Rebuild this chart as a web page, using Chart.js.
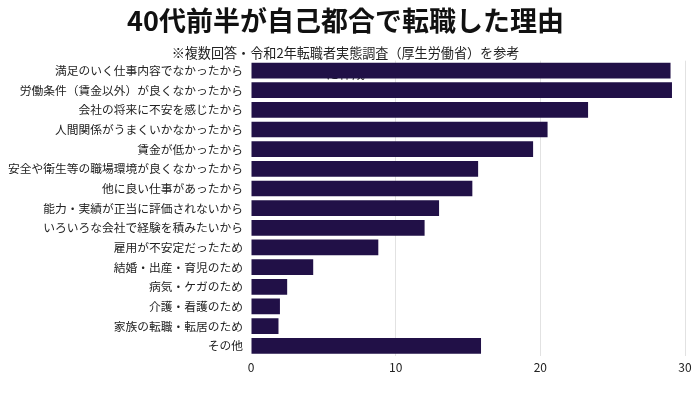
<!DOCTYPE html>
<html>
<head>
<meta charset="utf-8">
<script src="https://cdn.jsdelivr.net/npm/chart.js@4"></script>
<style>
  body { margin: 0; background: #fff; }
  #wrap { width: 700px; height: 393px; }
</style>
</head>
<body>
<div id="wrap"><canvas id="myChart" width="700" height="393"></canvas></div>
<script>
var reasons = [
  '満足のいく仕事内容でなかったから',
  '労働条件（賃金以外）が良くなかったから',
  '会社の将来に不安を感じたから',
  '人間関係がうまくいかなかったから',
  '賃金が低かったから',
  '安全や衛生等の職場環境が良くなかったから',
  '他に良い仕事があったから',
  '能力・実績が正当に評価されないから',
  'いろいろな会社で経験を積みたいから',
  '雇用が不安定だったため',
  '結婚・出産・育児のため',
  '病気・ケガのため',
  '介護・看護のため',
  '家族の転職・転居のため',
  'その他'
];
var percents = [29.0, 29.1, 23.3, 20.5, 19.5, 15.7, 15.3, 13.0, 12.0, 8.8, 4.3, 2.5, 2.0, 1.9, 15.9];
var xTicks = [0, 10, 20, 30];

var titleText = '40代前半が自己都合で転職した理由';
var noteText = ['※複数回答・令和2年転職者実態調査（厚生労働省）を参考', 'に作成'];

var jp = '"Noto Sans CJK JP", "Noto Sans", sans-serif';
Chart.defaults.font.family = jp;
Chart.defaults.color = '#222';

var ctx = document.getElementById('myChart').getContext('2d');
var chart = new Chart(ctx, {
  type: 'bar',
  data: {
    labels: reasons,
    datasets: [{
      data: percents,
      backgroundColor: '#211047',
      borderWidth: 0,
      categoryPercentage: 1,
      barPercentage: 0.8
    }]
  },
  options: {
    indexAxis: 'y',
    responsive: false,
    animation: false,
    layout: { padding: { left: 6, right: 15, top: 0, bottom: 13 } },
    plugins: {
      legend: { display: false },
      tooltip: { enabled: false },
      title: {
        display: true,
        text: titleText,
        color: '#111',
        font: { size: 27, weight: 'bold' },
        padding: { top: 5, bottom: 6 }
      },
      subtitle: {
        display: true,
        text: noteText,
        color: '#222',
        font: { size: 13.1, lineHeight: 1.5 },
        padding: { top: 0, bottom: -22 }
      }
    },
    scales: {
      x: {
        min: 0,
        max: 30,
        afterBuildTicks: function(axis) {
          axis.ticks = xTicks.map(function(v) { return { value: v }; });
        },
        grid: {
          drawTicks: false,
          color: function(c) { return c.tick && c.tick.value === 0 ? 'rgba(0,0,0,0)' : '#e2e2e2'; }
        },
        border: { display: false },
        ticks: { padding: 5, font: { size: 12 }, color: '#222' }
      },
      y: {
        afterFit: function(axis) { axis.width = 245; },
        grid: { display: false, drawTicks: false },
        border: { display: false },
        ticks: { padding: 8, font: { size: 11.75 }, color: '#222', autoSkip: false }
      }
    }
  }
});
</script>
</body>
</html>
